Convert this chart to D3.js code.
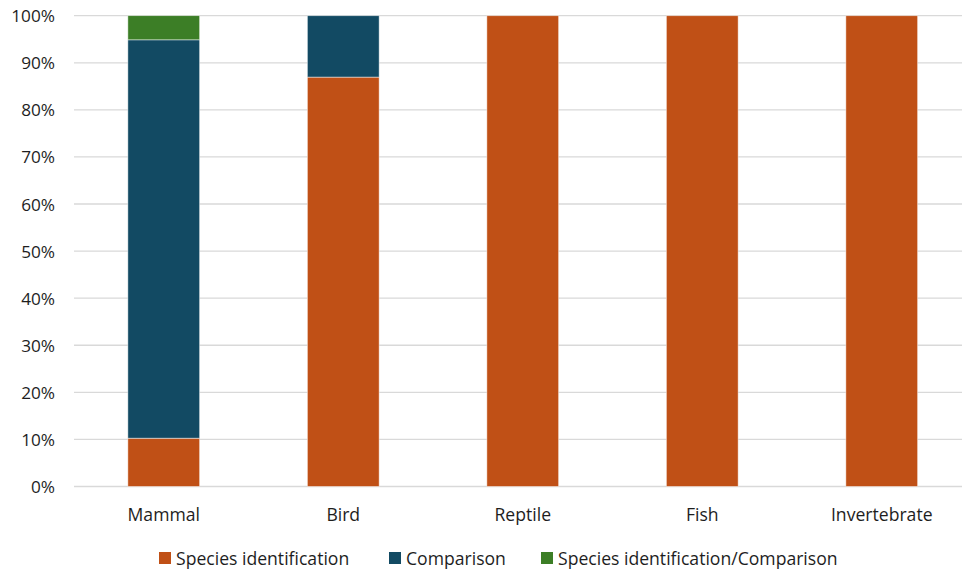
<!DOCTYPE html>
<html><head><meta charset="utf-8">
<script src="https://cdn.jsdelivr.net/npm/d3@7"></script>
<style>body{margin:0;background:#fff;}svg{display:block;font-family:"Open Sans",sans-serif;}</style>
</head><body>
<svg id="c" width="962" height="573"></svg>
<script>
const categories = ["Mammal","Bird","Reptile","Fish","Invertebrate"];
const seriesNames = ["Species identification","Comparison","Species identification/Comparison"];
const speciesId = [0.1026, 0.8696, 1, 1, 1];
const comparison = [0.8462, 0.1304, 0, 0, 0];
const speciesIdComparison = [0.0513, 0, 0, 0, 0];
const colors = ["#C05016","#124A63","#3C7E26"];
const yTicks = [0,0.1,0.2,0.3,0.4,0.5,0.6,0.7,0.8,0.9,1];

const svg = d3.select("#c");
const m = {left:74, right:971.5, top:15.7, bottom:486.5};
const x = d3.scaleBand().domain(categories).range([m.left,m.right]).paddingInner(0.6).paddingOuter(0.3);
const y = d3.scaleLinear().domain([0,1]).range([m.bottom,m.top]);

// gridlines
svg.append("g").selectAll("line").data(yTicks).join("line")
  .attr("x1",m.left).attr("x2",m.right)
  .attr("y1",d=>y(d)).attr("y2",d=>y(d))
  .attr("stroke","#d9d9d9").attr("stroke-width",1.3);

const yAxis = svg.append("g").attr("transform",`translate(${m.left-19},0)`)
  .call(d3.axisLeft(y).tickValues(yTicks).tickFormat(d3.format(".0%")).tickSize(0));
yAxis.select(".domain").remove();
yAxis.selectAll("text").attr("font-size",17.2).attr("fill","#1e1e1e").attr("font-family","Open Sans").attr("dy","0.35em").attr("x",0);

const rows = categories.map((c,i)=>({cat:c, v0:speciesId[i], v1:comparison[i], v2:speciesIdComparison[i]}));
const stack = d3.stack().keys(["v0","v1","v2"])(rows);
svg.append("g").selectAll("g").data(stack).join("g")
  .attr("fill",(d,i)=>colors[i])
  .selectAll("rect").data(d=>d.filter(p=>p[1]-p[0]>0)).join("rect")
  .attr("x",d=>x(d.data.cat)).attr("width",x.bandwidth())
  .attr("y",d=>y(d[1])).attr("height",d=>y(d[0])-y(d[1]))
  .attr("stroke","#ffffff").attr("stroke-opacity",0.6).attr("stroke-width",0.8);

const xAxis = svg.append("g").attr("transform",`translate(0,${m.bottom})`)
  .call(d3.axisBottom(x).tickSize(0).tickPadding(22));
xAxis.select(".domain").remove();
xAxis.selectAll("text").attr("font-size",17.6).attr("fill","#1e1e1e").attr("font-family","Open Sans");

// legend
const legendX = [159, 389, 541];
const lg = svg.append("g");
seriesNames.forEach((n,i)=>{
  lg.append("rect").attr("x",legendX[i]).attr("y",552).attr("width",12).attr("height",12).attr("fill",colors[i]);
  lg.append("text").attr("x",legendX[i]+17).attr("y",559).attr("dy","0.35em")
    .attr("font-size",17.6).attr("fill","#1e1e1e").text(n);
});
</script>
</body></html>
